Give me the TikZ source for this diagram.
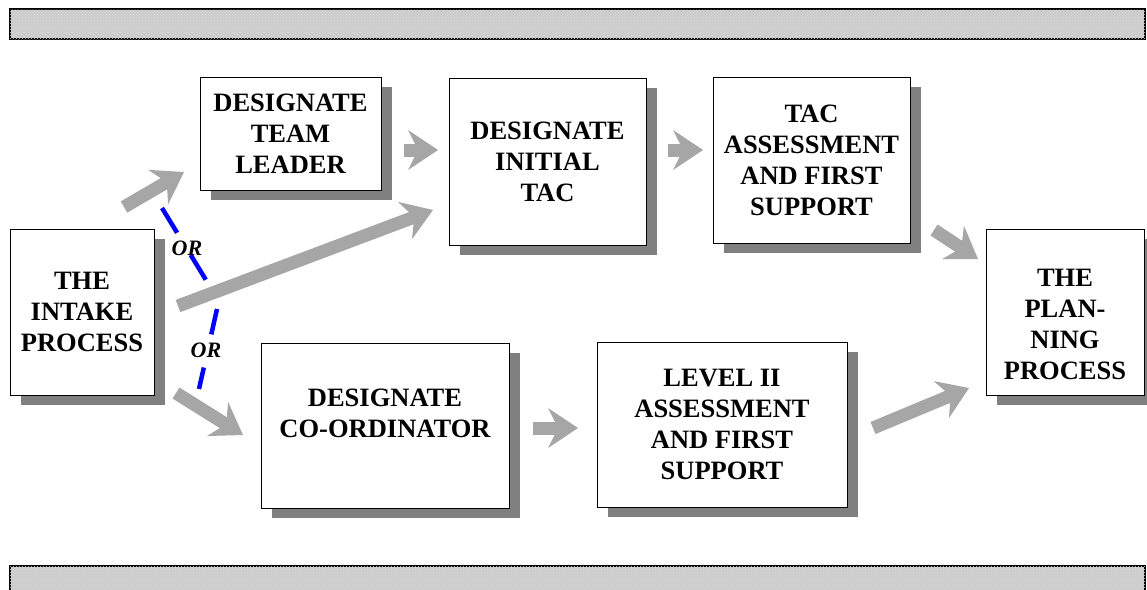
\documentclass[tikz,border=0pt]{standalone}
\usepackage{fontspec}
\setmainfont{Liberation Serif}
\usetikzlibrary{arrows.meta,shadows,patterns,calc}
\begin{document}
\begin{tikzpicture}[x=1pt,y=-1pt,
  box/.style={draw=black,line width=1pt,fill=white,inner sep=0pt,
    align=center,font=\bfseries\fontsize{26.5}{31}\selectfont,
    drop shadow={shadow xshift=11pt,shadow yshift=-10pt,fill=black!50,opacity=1}},
  boxtext/.style={inner sep=0pt,align=center,font=\bfseries\fontsize{26.5}{31}\selectfont},
  flow/.style={draw=black!35,line width=13pt,
    -{Stealth[length=30pt,width=40pt,inset=10pt,line width=0pt,fill=black!35]}},
  orline/.style={draw=blue,line width=4.5pt},
  ortext/.style={font=\bfseries\itshape\fontsize{22}{26}\selectfont,inner sep=0pt},
  banner/.style={draw=black,line width=1.3pt,fill=black!20,
    postaction={pattern=crosshatch dots,pattern color=white!85!black}}
]
\useasboundingbox (0,0) rectangle (1147,589);

% banners
\path[banner] (10,9) rectangle (1145,39);
\path[banner] (10,566) rectangle (1145,600);
\useasboundingbox (0,0) rectangle (1147,589);

% boxes
\node[box,minimum width=144pt,minimum height=166pt] (intake) at (82,312) {THE\\INTAKE\\PROCESS};
\node[box,minimum width=181pt,minimum height=113pt] (tl) at (290.5,133.5) {DESIGNATE\\TEAM\\LEADER};
\node[box,minimum width=197pt,minimum height=167pt] (tac) at (547.5,161.5) {DESIGNATE\\INITIAL\\TAC};
\node[box,minimum width=197pt,minimum height=166pt] (tacass) at (811.5,160) {TAC\\ASSESSMENT\\AND FIRST\\SUPPORT};
\node[box,minimum width=158pt,minimum height=166pt] (plan) at (1065,312) {};
\node[boxtext] (plantext) at (1065,324) {THE\\PLAN-\\NING\\PROCESS};
\node[box,minimum width=248pt,minimum height=165pt] (coord) at (385,425.5) {};
\node[boxtext] (coordtext) at (385,413) {DESIGNATE\\CO-ORDINATOR};
\node[box,minimum width=250pt,minimum height=165pt] (lev) at (722,424.5) {LEVEL II\\ASSESSMENT\\AND FIRST\\SUPPORT};

% arrow end points
\coordinate (a1s) at (124,207);
\coordinate (a1e) at (184,172);
\coordinate (a2s) at (178,306);
\coordinate (a2e) at (433,210);
\coordinate (a3s) at (176,393);
\coordinate (a3e) at (243,435);
\coordinate (a4s) at (404,150);
\coordinate (a4e) at (438,150);
\coordinate (a5s) at (668,150);
\coordinate (a5e) at (703,150);
\coordinate (a6s) at (934,230);
\coordinate (a6e) at (978,259);
\coordinate (a7s) at (533,428);
\coordinate (a7e) at (578,428);
\coordinate (a8s) at (873,428);
\coordinate (a8e) at (969,388);

\draw[flow] (a1s) -- (a1e);
\draw[flow] (a2s) -- (a2e);
\draw[flow] (a3s) -- (a3e);
\draw[flow] (a4s) -- (a4e);
\draw[flow] (a5s) -- (a5e);
\draw[flow] (a6s) -- (a6e);
\draw[flow] (a7s) -- (a7e);
\draw[flow] (a8s) -- (a8e);

% OR lines
\coordinate (o1s) at (162,208);
\coordinate (o1e) at (206,280);
\coordinate (o2s) at (217,309);
\coordinate (o2e) at (199,389);
\draw[orline,dash pattern=on 29pt off 26pt] (o1s) -- (o1e);
\draw[orline,dash pattern=on 26pt off 34pt] (o2s) -- (o2e);
\node[ortext] (or1) at (187,248) {OR};
\node[ortext] (or2) at (206,350) {OR};
\end{tikzpicture}
\end{document}
